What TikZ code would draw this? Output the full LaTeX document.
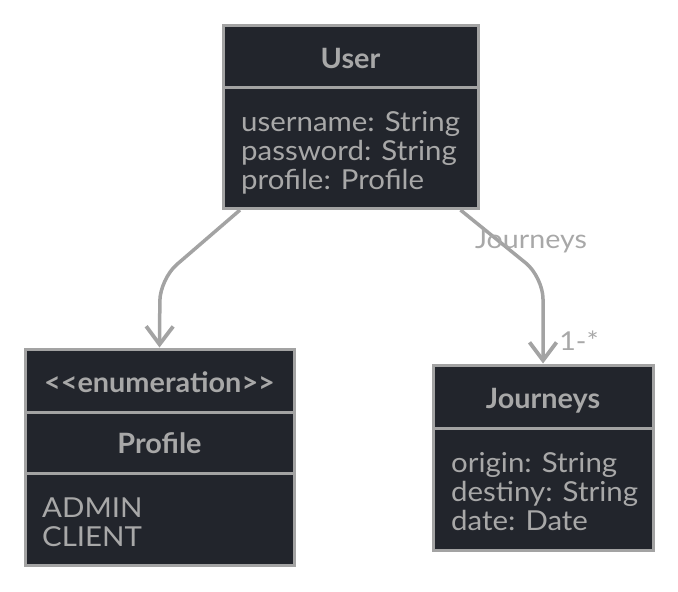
\documentclass[tikz,border=0pt]{standalone}
\usepackage{fontspec}
\setmainfont{Lato}
\newfontfamily\bodyfont{Lato}[FakeStretch=1.07]
\newfontfamily\lblfont{Lato}[FakeStretch=1.1]
\newfontfamily\titlefont{Lato}[FakeStretch=1.03]
\usetikzlibrary{arrows.meta}
\definecolor{boxfill}{HTML}{22252C}
\definecolor{edge}{HTML}{A3A3A3}
\definecolor{txt}{HTML}{A8A8A8}
\tikzset{
  comp/.style={draw=edge, line width=3pt, fill=boxfill, rectangle, inner sep=0pt, minimum width=#1},
  title/.style={text=txt, font=\titlefont\bfseries\fontsize{28}{30}\selectfont, inner sep=0pt, anchor=base},
  attr/.style={text=txt, font=\bodyfont\fontsize{27.5}{30}\selectfont, inner sep=0pt, anchor=base west},
  lbl/.style={text=txt, font=\lblfont\fontsize{26}{30}\selectfont, inner sep=0pt, anchor=base},
  conn/.style={draw=edge, line width=3.5pt, rounded corners=22pt, -{Straight Barb[length=18pt,width=27pt,line width=3.8pt]}}
}
\begin{document}
\begin{tikzpicture}[x=1pt,y=-1pt]
\useasboundingbox (0,0) rectangle (678,592);
% User
\node[comp=255pt, minimum height=62pt] (uh) at (350.5,56.5) {};
\node[comp=255pt, minimum height=121pt] (ub) at (350.5,148) {};
\node[title] (uht) at (350.5,68) {User};
\node[attr] (ua1) at (241,131) {username: String};
\node[attr] (ua2) at (241,160.3) {password: String};
\node[attr] (ua3) at (241,189.6) {profile: Profile};
% Profile
\node[comp=269pt, minimum height=63pt] (ph) at (159.5,380.5) {};
\node[comp=269pt, minimum height=61pt] (pn) at (159.5,442.5) {};
\node[comp=269pt, minimum height=92pt] (pb) at (159.5,519) {};
\node[title] (pht) at (159.5,392) {<{}<enumeration>{}>};
\node[title] (pnt) at (159.5,453.5) {Profile};
\node[attr] (pa1) at (42,517) {ADMIN};
\node[attr] (pa2) at (42,546.3) {CLIENT};
% Journeys
\node[comp=220pt, minimum height=63pt] (jh) at (543,396.5) {};
\node[comp=220pt, minimum height=122pt] (jb) at (543,489) {};
\node[title] (jht) at (543,408) {Journeys};
\node[attr] (ja1) at (451,472) {origin: String};
\node[attr] (ja2) at (451,501.3) {destiny: String};
\node[attr] (ja3) at (451,530.6) {date: Date};
% connectors
\draw[conn] ([xshift=-110.5pt]ub.south) -- (160,279) -- (ph.north);
\draw[conn] ([xshift=110pt]ub.south) -- (543,277) -- (jh.north);
\node[lbl] (jl) at (531,248) {Journeys};
\node[lbl] (ml) at (579,350) {1-*};
\end{tikzpicture}
\end{document}
